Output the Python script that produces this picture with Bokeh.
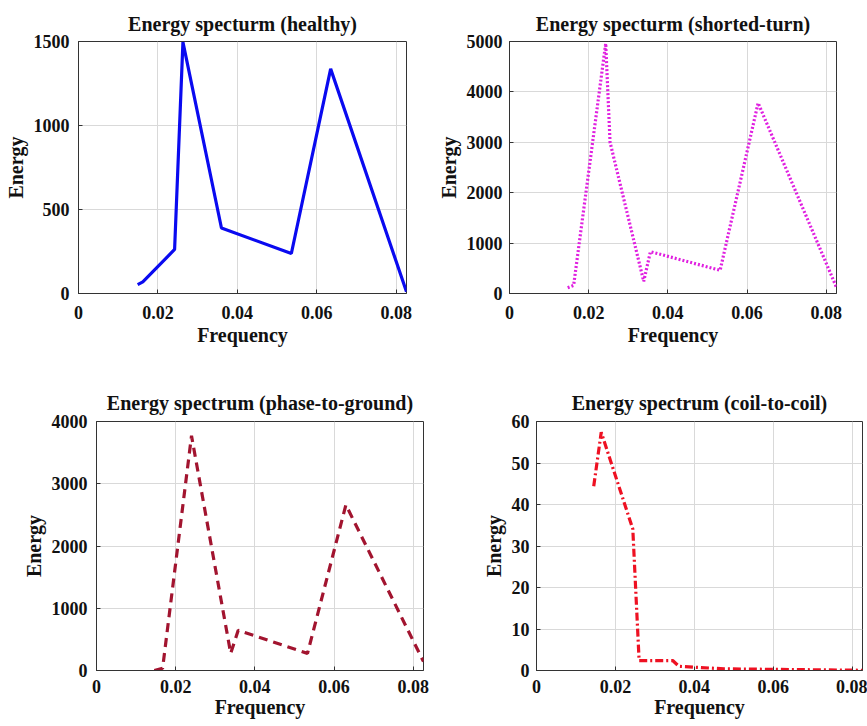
from bokeh.plotting import figure
from bokeh.layouts import column, row
from bokeh.models import FixedTicker, NumeralTickFormatter, Range1d
from bokeh.embed import file_html
from bokeh.resources import INLINE

# ---- data ----
healthy_freq = [0.0149, 0.0162, 0.0242, 0.0263, 0.0360, 0.0536, 0.0635, 0.0826]
healthy_energy = [53, 69, 262, 1496, 390, 238, 1337, 10]

shorted_freq = [0.0147, 0.0162, 0.0243, 0.0254, 0.0339, 0.0356, 0.0532, 0.0628, 0.0826]
shorted_energy = [115, 160, 4960, 3000, 240, 830, 460, 3780, 120]

phase_freq = [0.0146, 0.0167, 0.0240, 0.0339, 0.0358, 0.0533, 0.0630, 0.0826]
phase_energy = [0, 37, 3770, 275, 646, 275, 2660, 143]

coil_freq = [0.0145, 0.0164, 0.0244, 0.0260, 0.0345, 0.0361, 0.0475, 0.0826]
coil_energy = [44.4, 57.4, 34.1, 2.4, 2.4, 1.0, 0.4, 0.05]

x_ticks = [0, 0.02, 0.04, 0.06, 0.08]
titles = ["Energy specturm (healthy)", "Energy specturm (shorted-turn)",
          "Energy spectrum (phase-to-ground)", "Energy spectrum (coil-to-coil)"]
y_maxes = [1500, 5000, 4000, 60]
y_steps = [500, 1000, 1000, 10]

FONT = "Liberation Serif"


def make(title, xs, ys, ymax, ystep, color, dash, w, h, bl, br, bt, bb,
         title_standoff, x_std, x_lab_std, y_std):
    p = figure(width=w, height=h, output_backend="svg", toolbar_location=None,
               x_range=Range1d(0, 0.0826), y_range=Range1d(0, ymax),
               min_border_left=bl, min_border_right=br,
               min_border_top=bt, min_border_bottom=bb)
    p.line(xs, ys, line_color=color, line_width=3.2, line_dash=dash)
    p.title.text = title
    p.title.align = "center"
    p.title.text_font = FONT
    p.title.text_font_style = "bold"
    p.title.text_font_size = "20px"
    p.title.text_color = "#111111"
    p.title.offset = 0
    p.title.standoff = title_standoff
    p.xaxis.axis_label = "Frequency"
    p.yaxis.axis_label = "Energy"
    p.xaxis.ticker = FixedTicker(ticks=x_ticks)
    p.xaxis.formatter = NumeralTickFormatter(format="0.[00]")
    p.yaxis.ticker = FixedTicker(ticks=list(range(0, ymax + 1, ystep)))
    for ax in (p.xaxis, p.yaxis):
        ax.axis_label_text_font = FONT
        ax.axis_label_text_font_style = "bold"
        ax.axis_label_text_font_size = "20px"
        ax.axis_label_text_color = "#111111"
        ax.major_label_text_font = FONT
        ax.major_label_text_font_style = "bold"
        ax.major_label_text_font_size = "18px"
        ax.major_label_text_color = "#111111"
        ax.major_tick_in = 4
        ax.major_tick_out = 0
        ax.minor_tick_line_color = None
        ax.axis_line_color = "#333333"
        ax.major_tick_line_color = "#333333"
    p.xaxis.major_label_standoff = x_std
    p.xaxis.axis_label_standoff = x_lab_std
    p.yaxis.major_label_standoff = y_std
    p.yaxis.axis_label_standoff = 4
    p.yaxis.major_label_orientation = "horizontal"
    p.xgrid.grid_line_color = "#d9d9d9"
    p.ygrid.grid_line_color = "#d9d9d9"
    p.outline_line_color = "#333333"
    p.outline_line_alpha = 1
    p.outline_line_width = 1
    p.background_fill_color = "white"
    p.border_fill_color = "white"
    return p


p1 = make(titles[0], healthy_freq, healthy_energy, y_maxes[0], y_steps[0],
          "#0a0af0", "solid", 434, 360, 78, 28, 41, 67, 13, 12, 2, 9)
p2 = make(titles[1], shorted_freq, shorted_energy, y_maxes[1], y_steps[1],
          "#e020e0", "2 2", 433, 360, 75, 31, 41, 67, 13, 12, 2, 7)
p3 = make(titles[2], phase_freq, phase_energy, y_maxes[2], y_steps[2],
          "#a2142f", "9 6", 434, 366, 96, 11, 61, 54, 16, 9, 0, 9)
p4 = make(titles[3], coil_freq, coil_energy, y_maxes[3], y_steps[3],
          "#ee1122", "8 3 2 3", 433, 366, 102, 5, 58, 56, 16, 9, 0, 7)

layout = column(row(p1, p2), row(p3, p4))
open("out.html", "w").write(file_html(layout, INLINE))
